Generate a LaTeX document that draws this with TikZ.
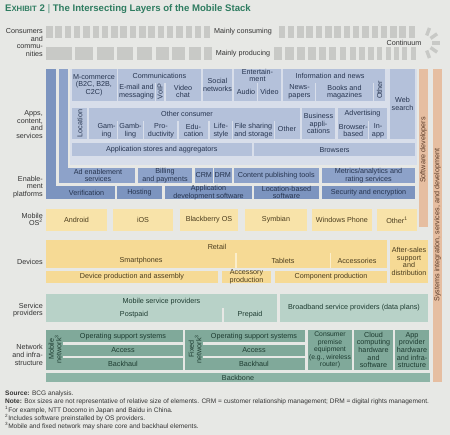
\documentclass[tikz,border=0pt]{standalone}
\usepackage{fontspec}
\setmainfont{Liberation Sans}
\usetikzlibrary{calc}
\definecolor{bg}{HTML}{E7E8E5}
\definecolor{gbar}{HTML}{C8C9C6}
\definecolor{titleg}{HTML}{2E7C60}
\definecolor{labc}{HTML}{333333}
\definecolor{blueA}{HTML}{7C94BF}
\definecolor{blueB}{HTML}{8DA2C9}
\definecolor{blueC}{HTML}{B4C1DA}
\definecolor{panel}{HTML}{D8DEEA}
\definecolor{txtblue}{HTML}{26344F}
\definecolor{yelA}{HTML}{F8E3A9}
\definecolor{yelB}{HTML}{F6DA95}
\definecolor{txtyel}{HTML}{4B3D1E}
\definecolor{peach}{HTML}{E6BEA1}
\definecolor{txtpeach}{HTML}{5B3B28}
\definecolor{greenL}{HTML}{B8D2C8}
\definecolor{greenD}{HTML}{80A99A}
\definecolor{greenB}{HTML}{8DB4A6}
\definecolor{txtgreen}{HTML}{1D3B30}
\newcommand\fs{\fontsize{7.2}{7.6}\selectfont}
\newcommand\mybox[6]{\fill[#1] (#2,#3) rectangle (#4,#5);\node[bt] at ({(#2+#4)/2},{(#3+#5)/2}) {#6};}
\begin{document}
\begin{tikzpicture}[x=1pt,y=-1pt,
  bt/.style={align=center,font=\fs,inner sep=0pt,text=txtblue},
  lab/.style={align=right,font=\fs,inner sep=0pt,anchor=east,text=labc},
  sepl/.style={line width=1.4pt},
  foot/.style={anchor=west,inner sep=0pt,font=\fontsize{6.55}{7}\selectfont,text=labc}]
\fill[bg] (0,0) rectangle (450,435);
\useasboundingbox (0,0) rectangle (450,435);
% title
\node[anchor=west,inner sep=0pt,text=titleg,font=\bfseries] (title) at (5,9.5)
 {{\fontsize{9.6}{10}\selectfont E}{\fontsize{7.7}{8}\selectfont XHIBIT}{\fontsize{9.6}{10}\selectfont\ 2 \textcolor{titleg!60}{|} The Intersecting Layers of the Mobile Stack}};
% consumers
\foreach \i in {0,...,39} \fill[gbar] ({46+9.3*\i},26) rectangle ({52.5+9.3*\i},38);
\foreach \a/\w in {46/26,75.3/18,96.6/17.5,117.4/16,136.7/15.5,155.5/13.5,172.3/13,188.6/12,203.9/11.5,218.7/11,233/10.5,246.8/10,260.1/9.5,272.9/9,285.2/8.5,297/8,308.3/7.5,319.1/7,329.4/7,339.7/6.5,349.5/6,358.8/6,368.1/5.5,376.9/5.5,385.7/5,394/5,402.3/5,410.6/5}
  \fill[gbar] (\a,47) rectangle ({\a+\w},60);
\foreach \a in {70,35,0,-35,-70} \fill[gbar,rotate around={\a:(424,43)}] (432,41.3) rectangle (440,44.7);
\node[bt,fill=bg,inner xsep=4pt,inner ysep=4pt,text=labc] (cons) at (243,32) {Mainly consuming};
\node[bt,fill=bg,inner xsep=4pt,inner ysep=4pt,text=labc] (prod) at (243,53.5) {Mainly producing};
\node[bt,text=labc] (cont) at (404,43) {Continuum};
\node[lab] (lcons) at (43,42.5) {Consumers\\and\\commu-\\nities};
% left labels
\node[lab] (lapps) at (43,124.5) {Apps,\\content,\\and\\services};
\node[lab] (lenab) at (43,187) {Enable-\\ment\\platforms};
\node[lab] (los) at (43,219.5) {Mobile\\OS\textsuperscript{2}};
\node[lab] (ldev) at (43,262) {Devices};
\node[lab] (lsp) at (43,310) {Service\\providers};
\node[lab] (lnet) at (43,355) {Network\\and infra-\\structure};
% ---------- apps / enablement
\fill[blueA] (46,69) rectangle (55.5,199);
\fill[blueA] (46,186) rectangle (115,199);
\node[bt] (verif) at (86.5,192.5) {Verification};
\mybox{blueA}{117}{186}{162}{199}{Hosting}
\mybox{blueA}{165}{186}{252}{199}{Application\\development software}
\mybox{blueA}{254}{186}{319}{199}{Location-based\\software}
\mybox{blueA}{322}{186}{415}{199}{Security and encryption}
\fill[blueB] (58.5,69) rectangle (68,183);
\fill[blueB] (58.5,168) rectangle (135,183);
\node[bt] (adena) at (98,175.5) {Ad enablement\\services};
\mybox{blueB}{138}{168}{192}{183}{Billing\\and payments}
\mybox{blueB}{195}{168}{212.5}{183}{CRM}
\mybox{blueB}{214}{168}{231.5}{183}{DRM}
\mybox{blueB}{233.5}{168}{319}{183}{Content publishing tools}
\mybox{blueB}{322}{168}{415}{183}{Metrics/analytics and\\rating services}
\fill[panel] (69.5,69) rectangle (416.5,165.5);
% row 1
\mybox{blueC}{71.5}{69}{116.5}{101}{M-commerce\\(B2C, B2B,\\C2C)}
\fill[blueC] (118,69) rectangle (201,101);
\node[bt] (comm) at (159.5,75.5) {Communications};
\draw[sepl,panel] (155.5,83) -- (155.5,101) (165,83) -- (165,101);
\node[bt] (email) at (136.5,91.5) {E-mail and\\messaging};
\node[bt,rotate=90] (voip) at (160.3,91.5) {VoIP};
\node[bt] (vchat) at (183,91.5) {Video\\chat};
\mybox{blueC}{203}{69}{232}{101}{Social\\networks}
\fill[blueC] (234,69) rectangle (281,101);
\node[bt] (ent) at (257.5,75.5) {Entertain-\\ment};
\draw[sepl,panel] (257.5,83) -- (257.5,101);
\node[bt] (audio) at (246,92) {Audio};
\node[bt] (video) at (269.5,92) {Video};
\fill[blueC] (283,69) rectangle (385,101);
\node[bt] (info) at (330,76) {Information and news};
\draw[sepl,panel] (315.5,83) -- (315.5,101) (373.5,83) -- (373.5,101);
\node[bt] (news) at (299.5,92) {News-\\papers};
\node[bt] (books) at (344.5,92) {Books and\\magazines};
\node[bt,rotate=90] (oth1) at (379.5,90) {Other};
\mybox{blueC}{390}{69}{415}{139}{Web\\search}
% row 2
\fill[blueC] (71.5,108) rectangle (300,139);
\draw[sepl,panel] (88,108) -- (88,139);
\node[bt,rotate=90] (loc) at (79.8,123.5) {Location};
\node[bt] (ocons) at (187,114) {Other consumer};
\draw[sepl,panel] (117.5,121) -- (117.5,139) (143.5,121) -- (143.5,139) (178,121) -- (178,139) (209,121) -- (209,139) (232.5,121) -- (232.5,139) (274.5,121) -- (274.5,139);
\node[bt] (gam) at (106.5,130.5) {Gam-\\ing};
\node[bt] (gamb) at (130.5,130.5) {Gamb-\\ling};
\node[bt] (prod2) at (161,130.5) {Pro-\\ductivity};
\node[bt] (edu) at (193.5,130.5) {Edu-\\cation};
\node[bt] (life) at (221,130.5) {Life-\\style};
\node[bt] (file) at (253.5,130.5) {File sharing\\and storage};
\node[bt] (oth2) at (287,129) {Other};
\mybox{blueC}{302}{108}{335}{139}{Business\\appli-\\cations}
\fill[blueC] (338,108) rectangle (387,139);
\node[bt] (adv) at (362.5,114) {Advertising};
\draw[sepl,panel] (368.5,121) -- (368.5,139);
\node[bt] (brb) at (353.3,130.5) {Browser-\\based};
\node[bt] (inapp) at (378,130.5) {In-\\app};
% row 3
\mybox{blueC}{71.5}{143}{252}{156.5}{Application stores and aggregators}
\mybox{blueC}{254}{143}{415}{156.5}{Browsers}
% peach columns
\fill[peach] (419,69) rectangle (428,227);
\node[bt,rotate=90,text=txtpeach] (swdev) at (423.5,150) {Software developers};
\fill[peach] (433,69) rectangle (442,382);
\node[bt,rotate=90,text=txtpeach] (sysint) at (437.5,225) {Systems integration, services, and development};
% ---------- OS
\begin{scope}[bt/.append style={text=txtyel}]
\mybox{yelA}{46}{209}{107}{231}{Android}
\mybox{yelA}{113}{209}{173}{231}{iOS}
\mybox{yelA}{180}{209}{238}{231}{Blackberry OS}
\mybox{yelA}{245}{209}{307}{231}{Symbian}
\mybox{yelA}{312}{209}{372}{231}{Windows Phone}
\mybox{yelA}{377}{209}{417}{231}{Other\textsuperscript{1}}
% devices
\fill[yelB] (46,240) rectangle (387,268);
\node[bt] (retail) at (217,246.5) {Retail};
\draw[sepl,yelA!60] (236,253.5) -- (236,268) (330.5,253.5) -- (330.5,268);
\node[bt] (smart) at (141,260.5) {Smartphones};
\node[bt] (tabl) at (283,260.5) {Tablets};
\node[bt] (acc) at (357,260.5) {Accessories};
\mybox{yelB}{390}{240}{428}{283}{After-sales\\support\\and\\distribution}
\mybox{yelB}{46}{271}{218}{283}{Device production and assembly}
\mybox{yelB}{222}{271}{271}{283}{Accessory\\production}
\mybox{yelB}{275}{271}{387}{283}{Component production}
\end{scope}
% ---------- service providers / network
\begin{scope}[bt/.append style={text=txtgreen}]
\fill[greenL] (46,294) rectangle (277,322);
\node[bt] (msp) at (161.5,301.5) {Mobile service providers};
\draw[sepl,bg] (223,308.5) -- (223,322);
\node[bt] (post) at (134,315) {Postpaid};
\node[bt] (pre) at (250,315) {Prepaid};
\mybox{greenL}{280}{294}{428}{322}{Broadband service providers (data plans)}
\fill[greenD] (46,330) rectangle (183,370);
\draw[line width=2.4pt,bg] (63,343.5) -- (183,343.5) (63,356.8) -- (183,356.8);
\node[bt,rotate=90] (mnet) at (55,349) {Mobile\\network\textsuperscript{3}};
\node[bt] (oss1) at (123,336.5) {Operating support systems};
\node[bt] (acc1) at (123,350) {Access};
\node[bt] (bh1) at (123,363.5) {Backhaul};
\fill[greenD] (185,330) rectangle (305,370);
\draw[line width=2.4pt,bg] (203,343.5) -- (305,343.5) (203,356.8) -- (305,356.8);
\node[bt,rotate=90] (fnet) at (195,349) {Fixed\\network\textsuperscript{3}};
\node[bt] (oss2) at (254,336.5) {Operating support systems};
\node[bt] (acc2) at (254,350) {Access};
\node[bt] (bh2) at (254,363.5) {Backhaul};
\fill[greenD] (308,330) rectangle (352,370);
\node[bt,font=\fontsize{6.8}{7.6}\selectfont] (cpe) at (330,350) {Consumer\\premise\\equipment\\(e.g., wireless\\router)};
\mybox{greenD}{354}{330}{393}{370}{Cloud\\computing\\hardware\\and\\software}
\mybox{greenD}{395}{330}{429}{370}{App\\provider\\hardware\\and infra-\\structure}
\mybox{greenB}{46}{373}{430}{382.5}{Backbone}
\end{scope}
% ---------- footnotes
\node[foot] (src) at (5,394) {\textbf{Source:} BCG analysis.};
\node[foot] (note) at (5,402) {\textbf{Note:} Box sizes are not representative of relative size of elements. CRM = customer relationship management; DRM = digital rights management.};
\node[foot] (f1) at (5,410) {\textsuperscript{1}For example, NTT Docomo in Japan and Baidu in China.};
\node[foot] (f2) at (5,418) {\textsuperscript{2}Includes software preinstalled by OS providers.};
\node[foot] (f3) at (5,426) {\textsuperscript{3}Mobile and fixed network may share core and backhaul elements.};
\end{tikzpicture}
\end{document}
